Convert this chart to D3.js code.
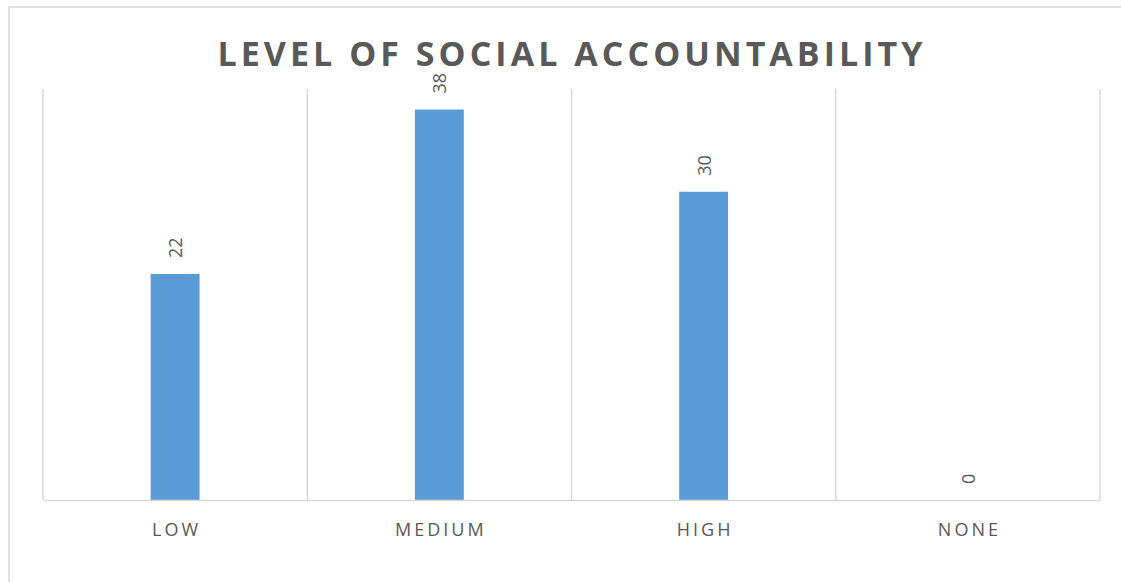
<!DOCTYPE html>
<html>
<head>
<meta charset="utf-8">
<script src="https://cdn.jsdelivr.net/npm/d3@7/dist/d3.min.js"></script>
<style>
  html, body { margin: 0; padding: 0; background: #ffffff; }
  svg { display: block; }
</style>
</head>
<body>
<svg id="chart" width="1121" height="582"></svg>
<script>
// Chart content
const titleText = "LEVEL OF SOCIAL ACCOUNTABILITY";
const categories = ["LOW", "MEDIUM", "HIGH", "NONE"];
const values = [22, 38, 30, 0];
const yDomain = [0, 40];

const plot = { left: 43, right: 1100, top: 89, bottom: 500 };
const gridColor = "#d9d9d9";
const textColor = "#595959";
const barColor = "#5b9bd5";

const svg = d3.select("#chart");

// chart area frame
svg.append("rect")
  .attr("x", 9).attr("y", 7)
  .attr("width", 1121).attr("height", 600)
  .attr("fill", "#fff")
  .attr("stroke", gridColor).attr("stroke-width", 1.5);

const x = d3.scaleBand()
  .domain(categories)
  .range([plot.left, plot.right])
  .paddingInner(0).paddingOuter(0);

const y = d3.scaleLinear()
  .domain(yDomain)
  .range([plot.bottom, plot.top]);

// vertical gridlines at category boundaries
const bounds = categories.map(c => x(c)).concat([x(categories[categories.length - 1]) + x.bandwidth()]);
svg.append("g").selectAll("line")
  .data(bounds)
  .join("line")
  .attr("x1", d => d).attr("x2", d => d)
  .attr("y1", plot.top).attr("y2", plot.bottom)
  .attr("stroke", gridColor).attr("stroke-width", 1.5);

// bars
const barW = x.bandwidth() * 0.185;
svg.append("g").selectAll("rect")
  .data(values)
  .join("rect")
  .attr("x", (d, i) => x(categories[i]) + x.bandwidth() / 2 - barW / 2)
  .attr("y", d => y(d))
  .attr("width", barW)
  .attr("height", d => y(0) - y(d))
  .attr("fill", barColor);

// category axis
const xAxis = d3.axisBottom(x).tickSize(0).tickPadding(0);
const gx = svg.append("g")
  .attr("transform", `translate(0,${plot.bottom})`)
  .call(xAxis);
gx.select(".domain")
  .attr("stroke", gridColor).attr("stroke-width", 1.5);
gx.selectAll(".tick text")
  .attr("y", 35.5)
  .attr("dy", 0)
  .attr("dx", 1.5)
  .attr("fill", textColor)
  .style("font-family", "'Open Sans', sans-serif")
  .style("font-size", "18px")
  .style("letter-spacing", "3px");

// value labels, rotated
svg.append("g").selectAll("text")
  .data(values)
  .join("text")
  .attr("transform", (d, i) => `translate(${x(categories[i]) + x.bandwidth() / 2},${y(d) - 16}) rotate(-90)`)
  .attr("text-anchor", "start")
  .attr("dominant-baseline", "central")
  .attr("fill", textColor)
  .style("font-family", "'Open Sans', sans-serif")
  .style("font-size", "18px")
  .text(d => d);

// title
svg.append("text")
  .attr("x", 570)
  .attr("y", 66)
  .attr("text-anchor", "middle")
  .attr("fill", textColor)
  .attr("textLength", 705)
  .attr("lengthAdjust", "spacing")
  .style("font-family", "'Open Sans', sans-serif")
  .style("font-weight", "bold")
  .style("font-size", "34px")
  .text(titleText);
</script>
</body>
</html>
